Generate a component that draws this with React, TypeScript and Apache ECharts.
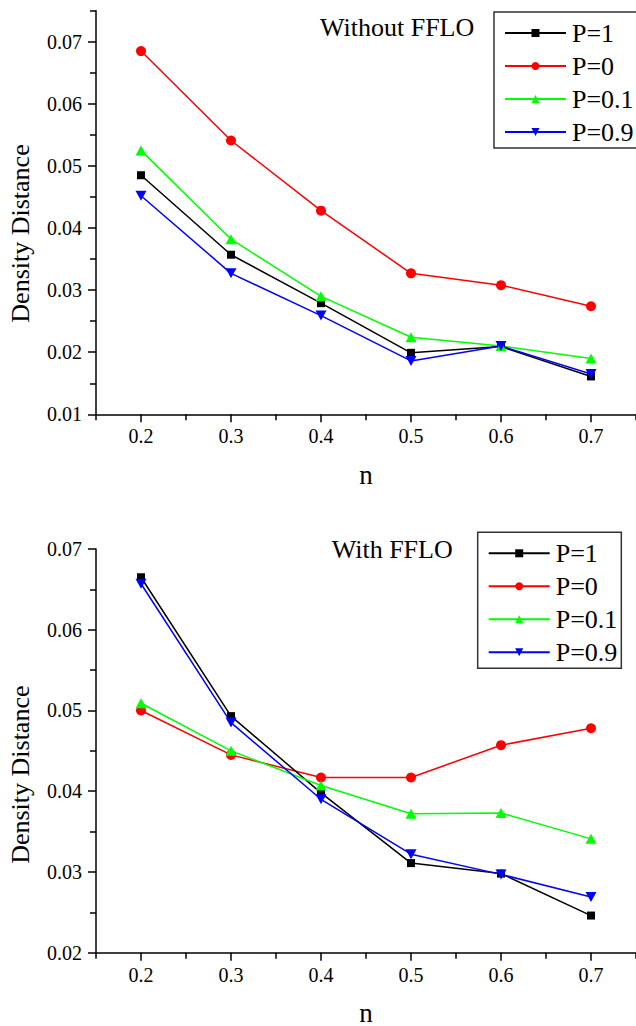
import React, { useEffect, useRef } from "react";
import * as echarts from "echarts";

const nValues = [0.2, 0.3, 0.4, 0.5, 0.6, 0.7];
const seriesNames = ["P=1", "P=0", "P=0.1", "P=0.9"];

// Top panel: Without FFLO
const topP1 = [0.0485, 0.0357, 0.0279, 0.0199, 0.0209, 0.0161];
const topP0 = [0.0685, 0.0541, 0.0428, 0.0327, 0.0308, 0.0274];
const topP01 = [0.0525, 0.0382, 0.029, 0.0224, 0.021, 0.019];
const topP09 = [0.0452, 0.0327, 0.0259, 0.0186, 0.021, 0.0165];

// Bottom panel: With FFLO
const botP1 = [0.0665, 0.0493, 0.0398, 0.0311, 0.0298, 0.0246];
const botP0 = [0.05, 0.0445, 0.0417, 0.0417, 0.0457, 0.0478];
const botP01 = [0.0509, 0.045, 0.0407, 0.0372, 0.0373, 0.0341];
const botP09 = [0.0657, 0.0485, 0.039, 0.0322, 0.0297, 0.0269];

const xMajorTicks = [0.2, 0.3, 0.4, 0.5, 0.6, 0.7];
const xMinorTicks = [0.15, 0.25, 0.35, 0.45, 0.55, 0.65, 0.75];
const topYMajor = [0.01, 0.02, 0.03, 0.04, 0.05, 0.06, 0.07];
const topYMinor = [0.015, 0.025, 0.035, 0.045, 0.055, 0.065, 0.075];
const botYMajor = [0.02, 0.03, 0.04, 0.05, 0.06, 0.07];
const botYMinor = [0.025, 0.035, 0.045, 0.055, 0.065];

const FONT = "'Liberation Serif', 'Times New Roman', serif";
const colors = ["#000000", "#ff0000", "#00ff00", "#0000ff"];
const symbols = [
  "rect",
  "circle",
  "triangle",
  "path://M0,0 L10,0 L5,8.66 Z",
];
const symbolSizes = [8, 10, [11, 10], [11, 10]];

export default function App() {
  const ref = useRef<HTMLDivElement>(null);
  useEffect(() => {
    document.body.style.margin = "0";
    if (!ref.current) return;
    const chart = echarts.init(ref.current, null, { renderer: "svg" });

    const mkX = (grid: number, major: boolean) => ({
      type: "value",
      gridIndex: grid,
      position: "bottom",
      min: 0.15,
      max: 0.75,
      axisLine: { show: major, lineStyle: { color: "#000", width: 1.5 } },
      axisTick: {
        show: true,
        inside: false,
        length: major ? 8 : 6,
        customValues: major ? xMajorTicks : xMinorTicks,
        lineStyle: { color: "#000", width: 1.5 },
      },
      axisLabel: {
        show: major,
        customValues: xMajorTicks,
        margin: 12,
        fontFamily: FONT,
        fontSize: 20,
        color: "#000",
        formatter: (v: number) => v.toFixed(1),
      },
      splitLine: { show: false },
    });

    const mkY = (
      grid: number,
      major: boolean,
      min: number,
      max: number,
      majorTicks: number[],
      minorTicks: number[]
    ) => ({
      type: "value",
      gridIndex: grid,
      position: "left",
      min,
      max,
      axisLine: { show: major, lineStyle: { color: "#000", width: 1.5 } },
      axisTick: {
        show: true,
        inside: false,
        length: major ? 8 : 6,
        customValues: major ? majorTicks : minorTicks,
        lineStyle: { color: "#000", width: 1.5 },
      },
      axisLabel: {
        show: major,
        customValues: majorTicks,
        margin: 14,
        fontFamily: FONT,
        fontSize: 20,
        color: "#000",
        formatter: (v: number) => v.toFixed(2),
      },
      splitLine: { show: false },
    });

    const groups = [
      { data: [topP1, topP0, topP01, topP09], axis: 0 },
      { data: [botP1, botP0, botP01, botP09], axis: 2 },
    ];
    const series: any[] = [];
    groups.forEach((g) => {
      g.data.forEach((vals, i) => {
        series.push({
          type: "line",
          name: seriesNames[i],
          xAxisIndex: g.axis,
          yAxisIndex: g.axis,
          data: nValues.map((n, k) => [n, vals[k]]),
          symbol: symbols[i],
          symbolSize: symbolSizes[i],
          showAllSymbol: true,
          color: colors[i],
          lineStyle: { color: colors[i], width: 1.5 },
          itemStyle: { color: colors[i] },
          z: i === 1 ? 2 : 3,
        });
      });
    });

    const mkLegend = (left: number, top: number, padding: number[]) => ({
      data: seriesNames,
      orient: "vertical",
      left,
      top,
      itemWidth: 61,
      itemHeight: 10,
      itemGap: 7,
      padding,
      borderColor: "#333",
      borderWidth: 1.5,
      borderRadius: 0,
      backgroundColor: "#fff",
      selectedMode: false,
      textStyle: {
        fontFamily: FONT,
        fontSize: 26,
        lineHeight: 26,
        color: "#000",
        padding: [0, 0, 0, 1],
      },
    });

    const yTitle = (y: number) => ({
      type: "text",
      x: 20,
      y,
      rotation: Math.PI / 2,
      style: {
        text: "Density Distance",
        fontFamily: FONT,
        fontSize: 26,
        fill: "#000",
        textAlign: "center",
        textVerticalAlign: "middle",
      },
    });
    const xTitle = (y: number) => ({
      type: "text",
      x: 366,
      y,
      style: {
        text: "n",
        fontFamily: FONT,
        fontSize: 27,
        fill: "#000",
        textAlign: "center",
        textVerticalAlign: "bottom",
      },
    });
    const note = (text: string, x: number, y: number) => ({
      type: "text",
      x,
      y,
      style: {
        text,
        fontFamily: FONT,
        fontSize: 26,
        fill: "#000",
        textAlign: "left",
        textVerticalAlign: "middle",
      },
    });

    chart.setOption({
      animation: false,
      backgroundColor: "#fff",
      grid: [
        { left: 96, right: 0, top: 10.7, height: 403.6 },
        { left: 96, right: 0, top: 549, height: 403.7 },
      ],
      xAxis: [mkX(0, true), mkX(0, false), mkX(1, true), mkX(1, false)],
      yAxis: [
        mkY(0, true, 0.01, 0.075, topYMajor, topYMinor),
        mkY(0, false, 0.01, 0.075, topYMajor, topYMinor),
        mkY(1, true, 0.02, 0.07, botYMajor, botYMinor),
        mkY(1, false, 0.02, 0.07, botYMajor, botYMinor),
      ],
      legend: [
        mkLegend(494, 12, [8, 4, 3, 10]),
        mkLegend(477.7, 532.3, [8, 4, 3, 10]),
      ],
      graphic: [
        yTitle(233.5),
        yTitle(774.7),
        xTitle(488),
        xTitle(1026),
        note("Without FFLO", 320, 27),
        note("With FFLO", 331.7, 549),
      ],
      series,
    });
    return () => chart.dispose();
  }, []);
  return <div ref={ref} style={{ width: 636, height: 1026 }} />;
}
